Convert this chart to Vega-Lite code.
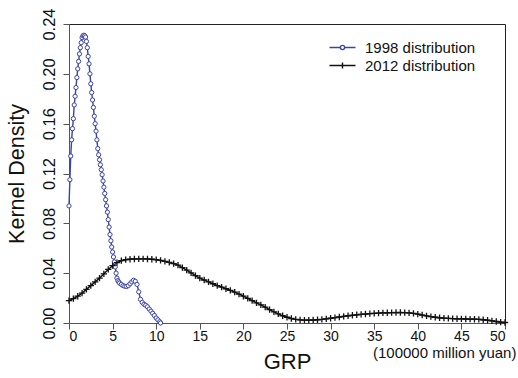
{
  "$schema": "https://vega.github.io/schema/vega-lite/v6.json",
  "width": 436,
  "height": 299,
  "autosize": "none",
  "padding": {"left": 69, "top": 24, "right": 13, "bottom": 55},
  "background": "white",
  "config": {
    "font": "Liberation Sans",
    "view": {"stroke": "#222", "strokeWidth": 1},
    "axis": {
      "grid": false,
      "domainColor": "#555",
      "tickColor": "#555",
      "labelColor": "#111",
      "titleColor": "#111",
      "labelFont": "Liberation Sans",
      "titleFont": "Liberation Sans",
      "titleFontWeight": "normal",
      "tickSize": 6
    }
  },
  "data": {
    "values": [
      {"series": "1998 distribution", "x": 0.0, "y": 0.094},
      {"series": "1998 distribution", "x": 0.1, "y": 0.115},
      {"series": "1998 distribution", "x": 0.2, "y": 0.134},
      {"series": "1998 distribution", "x": 0.3, "y": 0.147},
      {"series": "1998 distribution", "x": 0.4, "y": 0.156},
      {"series": "1998 distribution", "x": 0.5, "y": 0.164},
      {"series": "1998 distribution", "x": 0.6, "y": 0.175},
      {"series": "1998 distribution", "x": 0.7, "y": 0.182},
      {"series": "1998 distribution", "x": 0.8, "y": 0.189},
      {"series": "1998 distribution", "x": 0.9, "y": 0.197},
      {"series": "1998 distribution", "x": 1.0, "y": 0.204},
      {"series": "1998 distribution", "x": 1.1, "y": 0.210},
      {"series": "1998 distribution", "x": 1.2, "y": 0.216},
      {"series": "1998 distribution", "x": 1.3, "y": 0.221},
      {"series": "1998 distribution", "x": 1.4, "y": 0.225},
      {"series": "1998 distribution", "x": 1.5, "y": 0.229},
      {"series": "1998 distribution", "x": 1.6, "y": 0.2305},
      {"series": "1998 distribution", "x": 1.7, "y": 0.231},
      {"series": "1998 distribution", "x": 1.8, "y": 0.2305},
      {"series": "1998 distribution", "x": 1.9, "y": 0.2295},
      {"series": "1998 distribution", "x": 2.0, "y": 0.226},
      {"series": "1998 distribution", "x": 2.1, "y": 0.221},
      {"series": "1998 distribution", "x": 2.2, "y": 0.214},
      {"series": "1998 distribution", "x": 2.3, "y": 0.208},
      {"series": "1998 distribution", "x": 2.4, "y": 0.200},
      {"series": "1998 distribution", "x": 2.5, "y": 0.192},
      {"series": "1998 distribution", "x": 2.6, "y": 0.185},
      {"series": "1998 distribution", "x": 2.7, "y": 0.179},
      {"series": "1998 distribution", "x": 2.8, "y": 0.173},
      {"series": "1998 distribution", "x": 2.9, "y": 0.166},
      {"series": "1998 distribution", "x": 3.0, "y": 0.160},
      {"series": "1998 distribution", "x": 3.1, "y": 0.154},
      {"series": "1998 distribution", "x": 3.2, "y": 0.147},
      {"series": "1998 distribution", "x": 3.3, "y": 0.140},
      {"series": "1998 distribution", "x": 3.4, "y": 0.135},
      {"series": "1998 distribution", "x": 3.5, "y": 0.131},
      {"series": "1998 distribution", "x": 3.6, "y": 0.127},
      {"series": "1998 distribution", "x": 3.7, "y": 0.123},
      {"series": "1998 distribution", "x": 3.8, "y": 0.119},
      {"series": "1998 distribution", "x": 3.9, "y": 0.114},
      {"series": "1998 distribution", "x": 4.0, "y": 0.109},
      {"series": "1998 distribution", "x": 4.1, "y": 0.104},
      {"series": "1998 distribution", "x": 4.2, "y": 0.099},
      {"series": "1998 distribution", "x": 4.3, "y": 0.094},
      {"series": "1998 distribution", "x": 4.4, "y": 0.089},
      {"series": "1998 distribution", "x": 4.5, "y": 0.083},
      {"series": "1998 distribution", "x": 4.6, "y": 0.077},
      {"series": "1998 distribution", "x": 4.7, "y": 0.071},
      {"series": "1998 distribution", "x": 4.8, "y": 0.066},
      {"series": "1998 distribution", "x": 4.9, "y": 0.061},
      {"series": "1998 distribution", "x": 5.0, "y": 0.057},
      {"series": "1998 distribution", "x": 5.1, "y": 0.053},
      {"series": "1998 distribution", "x": 5.2, "y": 0.049},
      {"series": "1998 distribution", "x": 5.3, "y": 0.045},
      {"series": "1998 distribution", "x": 5.4, "y": 0.040},
      {"series": "1998 distribution", "x": 5.5, "y": 0.036},
      {"series": "1998 distribution", "x": 5.6, "y": 0.034},
      {"series": "1998 distribution", "x": 5.7, "y": 0.033},
      {"series": "1998 distribution", "x": 5.8, "y": 0.032},
      {"series": "1998 distribution", "x": 6.0, "y": 0.031},
      {"series": "1998 distribution", "x": 6.2, "y": 0.030},
      {"series": "1998 distribution", "x": 6.4, "y": 0.0295},
      {"series": "1998 distribution", "x": 6.6, "y": 0.0293},
      {"series": "1998 distribution", "x": 6.8, "y": 0.030},
      {"series": "1998 distribution", "x": 7.0, "y": 0.0315},
      {"series": "1998 distribution", "x": 7.2, "y": 0.033},
      {"series": "1998 distribution", "x": 7.4, "y": 0.0343},
      {"series": "1998 distribution", "x": 7.6, "y": 0.0335},
      {"series": "1998 distribution", "x": 7.8, "y": 0.031},
      {"series": "1998 distribution", "x": 8.0, "y": 0.025},
      {"series": "1998 distribution", "x": 8.2, "y": 0.019},
      {"series": "1998 distribution", "x": 8.4, "y": 0.0165},
      {"series": "1998 distribution", "x": 8.6, "y": 0.015},
      {"series": "1998 distribution", "x": 8.8, "y": 0.0142},
      {"series": "1998 distribution", "x": 9.0, "y": 0.013},
      {"series": "1998 distribution", "x": 9.2, "y": 0.0112},
      {"series": "1998 distribution", "x": 9.4, "y": 0.0095},
      {"series": "1998 distribution", "x": 9.6, "y": 0.0078},
      {"series": "1998 distribution", "x": 9.8, "y": 0.006},
      {"series": "1998 distribution", "x": 10.0, "y": 0.004},
      {"series": "1998 distribution", "x": 10.2, "y": 0.0025},
      {"series": "1998 distribution", "x": 10.4, "y": 0.001},
      {"series": "1998 distribution", "x": 10.5, "y": 0.0},
      {"series": "2012 distribution", "x": 0.0, "y": 0.018},
      {"series": "2012 distribution", "x": 0.5, "y": 0.0195},
      {"series": "2012 distribution", "x": 1.0, "y": 0.0215},
      {"series": "2012 distribution", "x": 1.5, "y": 0.024},
      {"series": "2012 distribution", "x": 2.0, "y": 0.027},
      {"series": "2012 distribution", "x": 2.5, "y": 0.030},
      {"series": "2012 distribution", "x": 3.0, "y": 0.033},
      {"series": "2012 distribution", "x": 3.5, "y": 0.036},
      {"series": "2012 distribution", "x": 4.0, "y": 0.0395},
      {"series": "2012 distribution", "x": 4.5, "y": 0.043},
      {"series": "2012 distribution", "x": 5.0, "y": 0.046},
      {"series": "2012 distribution", "x": 5.5, "y": 0.0485},
      {"series": "2012 distribution", "x": 6.0, "y": 0.050},
      {"series": "2012 distribution", "x": 6.5, "y": 0.0508},
      {"series": "2012 distribution", "x": 7.0, "y": 0.0512},
      {"series": "2012 distribution", "x": 7.5, "y": 0.0514},
      {"series": "2012 distribution", "x": 8.0, "y": 0.0515},
      {"series": "2012 distribution", "x": 8.5, "y": 0.0515},
      {"series": "2012 distribution", "x": 9.0, "y": 0.0514},
      {"series": "2012 distribution", "x": 9.5, "y": 0.0512},
      {"series": "2012 distribution", "x": 10.0, "y": 0.0508},
      {"series": "2012 distribution", "x": 10.5, "y": 0.0502},
      {"series": "2012 distribution", "x": 11.0, "y": 0.0495},
      {"series": "2012 distribution", "x": 11.5, "y": 0.0486},
      {"series": "2012 distribution", "x": 12.0, "y": 0.0476},
      {"series": "2012 distribution", "x": 12.5, "y": 0.0465},
      {"series": "2012 distribution", "x": 13.0, "y": 0.0445},
      {"series": "2012 distribution", "x": 13.5, "y": 0.0425},
      {"series": "2012 distribution", "x": 14.0, "y": 0.0403},
      {"series": "2012 distribution", "x": 14.5, "y": 0.038},
      {"series": "2012 distribution", "x": 15.0, "y": 0.036},
      {"series": "2012 distribution", "x": 15.5, "y": 0.0345},
      {"series": "2012 distribution", "x": 16.0, "y": 0.033},
      {"series": "2012 distribution", "x": 16.5, "y": 0.0315},
      {"series": "2012 distribution", "x": 17.0, "y": 0.030},
      {"series": "2012 distribution", "x": 17.5, "y": 0.0288},
      {"series": "2012 distribution", "x": 18.0, "y": 0.0275},
      {"series": "2012 distribution", "x": 18.5, "y": 0.0262},
      {"series": "2012 distribution", "x": 19.0, "y": 0.0248},
      {"series": "2012 distribution", "x": 19.5, "y": 0.0232},
      {"series": "2012 distribution", "x": 20.0, "y": 0.0215},
      {"series": "2012 distribution", "x": 20.5, "y": 0.0198},
      {"series": "2012 distribution", "x": 21.0, "y": 0.018},
      {"series": "2012 distribution", "x": 21.5, "y": 0.0162},
      {"series": "2012 distribution", "x": 22.0, "y": 0.0145},
      {"series": "2012 distribution", "x": 22.5, "y": 0.0127},
      {"series": "2012 distribution", "x": 23.0, "y": 0.0108},
      {"series": "2012 distribution", "x": 23.5, "y": 0.009},
      {"series": "2012 distribution", "x": 24.0, "y": 0.0073},
      {"series": "2012 distribution", "x": 24.5, "y": 0.0058},
      {"series": "2012 distribution", "x": 25.0, "y": 0.0046},
      {"series": "2012 distribution", "x": 25.5, "y": 0.0036},
      {"series": "2012 distribution", "x": 26.0, "y": 0.0029},
      {"series": "2012 distribution", "x": 26.5, "y": 0.0025},
      {"series": "2012 distribution", "x": 27.0, "y": 0.0023},
      {"series": "2012 distribution", "x": 27.5, "y": 0.0023},
      {"series": "2012 distribution", "x": 28.0, "y": 0.0024},
      {"series": "2012 distribution", "x": 28.5, "y": 0.0026},
      {"series": "2012 distribution", "x": 29.0, "y": 0.0029},
      {"series": "2012 distribution", "x": 29.5, "y": 0.0033},
      {"series": "2012 distribution", "x": 30.0, "y": 0.0038},
      {"series": "2012 distribution", "x": 30.5, "y": 0.0043},
      {"series": "2012 distribution", "x": 31.0, "y": 0.0048},
      {"series": "2012 distribution", "x": 31.5, "y": 0.0053},
      {"series": "2012 distribution", "x": 32.0, "y": 0.0058},
      {"series": "2012 distribution", "x": 32.5, "y": 0.0062},
      {"series": "2012 distribution", "x": 33.0, "y": 0.0066},
      {"series": "2012 distribution", "x": 33.5, "y": 0.0069},
      {"series": "2012 distribution", "x": 34.0, "y": 0.0072},
      {"series": "2012 distribution", "x": 34.5, "y": 0.0075},
      {"series": "2012 distribution", "x": 35.0, "y": 0.0077},
      {"series": "2012 distribution", "x": 35.5, "y": 0.0079},
      {"series": "2012 distribution", "x": 36.0, "y": 0.0081},
      {"series": "2012 distribution", "x": 36.5, "y": 0.0082},
      {"series": "2012 distribution", "x": 37.0, "y": 0.0083},
      {"series": "2012 distribution", "x": 37.5, "y": 0.0084},
      {"series": "2012 distribution", "x": 38.0, "y": 0.0084},
      {"series": "2012 distribution", "x": 38.5, "y": 0.0083},
      {"series": "2012 distribution", "x": 39.0, "y": 0.0081},
      {"series": "2012 distribution", "x": 39.5, "y": 0.0077},
      {"series": "2012 distribution", "x": 40.0, "y": 0.0071},
      {"series": "2012 distribution", "x": 40.5, "y": 0.0064},
      {"series": "2012 distribution", "x": 41.0, "y": 0.0057},
      {"series": "2012 distribution", "x": 41.5, "y": 0.0051},
      {"series": "2012 distribution", "x": 42.0, "y": 0.0046},
      {"series": "2012 distribution", "x": 42.5, "y": 0.0042},
      {"series": "2012 distribution", "x": 43.0, "y": 0.0039},
      {"series": "2012 distribution", "x": 43.5, "y": 0.0037},
      {"series": "2012 distribution", "x": 44.0, "y": 0.0035},
      {"series": "2012 distribution", "x": 44.5, "y": 0.0034},
      {"series": "2012 distribution", "x": 45.0, "y": 0.0033},
      {"series": "2012 distribution", "x": 45.5, "y": 0.0032},
      {"series": "2012 distribution", "x": 46.0, "y": 0.0031},
      {"series": "2012 distribution", "x": 46.5, "y": 0.003},
      {"series": "2012 distribution", "x": 47.0, "y": 0.0029},
      {"series": "2012 distribution", "x": 47.5, "y": 0.0026},
      {"series": "2012 distribution", "x": 48.0, "y": 0.0022},
      {"series": "2012 distribution", "x": 48.5, "y": 0.0017},
      {"series": "2012 distribution", "x": 49.0, "y": 0.0012},
      {"series": "2012 distribution", "x": 49.5, "y": 0.0007},
      {"series": "2012 distribution", "x": 50.0, "y": 0.0004}
    ]
  },
  "layer": [
    {
      "encoding": {
        "x": {
          "field": "x",
          "type": "quantitative",
          "scale": {"domain": [0, 50], "nice": false, "zero": false},
          "axis": {
            "title": "GRP",
            "values": [0, 5, 10, 15, 20, 25, 30, 35, 40, 45, 50],
            "labelFontSize": 14,
            "labelPadding": 0,
            "titleFontSize": 22,
            "titlePadding": 8
          }
        },
        "y": {
          "field": "y",
          "type": "quantitative",
          "scale": {"domain": [0, 0.24], "nice": false},
          "axis": {
            "title": "Kernel  Density",
            "values": [0, 0.04, 0.08, 0.12, 0.16, 0.2, 0.24],
            "format": ".2f",
            "labelAngle": 270,
            "labelAlign": "center",
            "labelBaseline": "bottom",
            "labelFontSize": 16.5,
            "labelPadding": 6,
            "titleFontSize": 21.5,
            "titlePadding": 13
          }
        }
      },
      "layer": [
        {
          "mark": {"type": "line", "strokeWidth": 1.4},
          "encoding": {
            "color": {
              "field": "series",
              "type": "nominal",
              "scale": {
                "domain": ["1998 distribution", "2012 distribution"],
                "range": ["#3c44a6", "#111111"]
              },
              "legend": {
                "title": null,
                "orient": "none",
                "legendX": 266,
                "legendY": 16,
                "labelFontSize": 15,
                "labelColor": "#111",
                "labelOffset": 15,
                "symbolSize": 100,
                "symbolStrokeWidth": 1.4,
                "symbolType": "M-2.6,0H2.6",
                "rowPadding": 2,
                "encode": {
                  "symbols": {
                    "update": {
                      "shape": {
                        "signal": "datum.value === '1998 distribution' ? 'M-2.6,0H-0.42M0.42,0H2.6M-0.42,0A0.42,0.42,0,1,1,0.42,0A0.42,0.42,0,1,1,-0.42,0' : 'M-2.6,0H2.6M0,-0.6V0.6'"
                      }
                    }
                  }
                }
              }
            }
          }
        },
        {
          "transform": [{"filter": "datum.series === '1998 distribution'"}],
          "mark": {
            "type": "point",
            "shape": "circle",
            "size": 18,
            "filled": false,
            "fill": "white",
            "fillOpacity": 1,
            "stroke": "#3c44a6",
            "strokeWidth": 1,
            "opacity": 1
          }
        },
        {
          "transform": [{"filter": "datum.series === '2012 distribution'"}],
          "mark": {
            "type": "point",
            "shape": "M-1,0H1M0,-1V1",
            "size": 40,
            "filled": false,
            "stroke": "#111111",
            "strokeWidth": 1.3,
            "opacity": 1
          }
        }
      ]
    },
    {
      "data": {"values": [{"unit": "(100000 million yuan)"}]},
      "mark": {
        "type": "text",
        "align": "left",
        "baseline": "middle",
        "dx": -132,
        "dy": 30,
        "fontSize": 15,
        "font": "Liberation Sans",
        "color": "#111"
      },
      "encoding": {
        "x": {"datum": 50, "type": "quantitative"},
        "y": {"datum": 0, "type": "quantitative"},
        "text": {"field": "unit"}
      }
    }
  ]
}
